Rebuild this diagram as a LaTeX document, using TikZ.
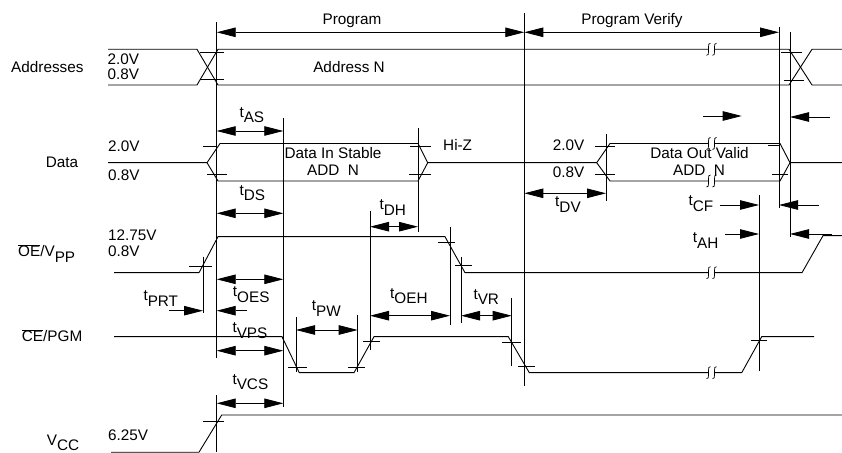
\documentclass[tikz,border=0pt]{standalone}
\usepackage{fontspec}
\setmainfont{Liberation Sans}
\usetikzlibrary{arrows.meta}
\newcommand{\tlab}[1]{t\raisebox{-5.5bp}{#1}}
\newcommand{\lowsub}[1]{\raisebox{-5.5bp}{#1}}
\tikzset{
  brk/.pic={
    \fill[white] (-3,-1.6) rectangle (3,1.6);
    \draw[line width=0.7bp] (-1,-6) .. controls (-3,-7) and (-3,-4) .. (-3,-2) -- (-3,2) .. controls (-3,4) and (-3,7) .. (-5,6);
    \draw[line width=0.7bp] (5,-6) .. controls (3,-7) and (3,-4) .. (3,-2) -- (3,2) .. controls (3,4) and (3,7) .. (1,6);
  }
}
\begin{document}
\begin{tikzpicture}[x=1bp,y=-1bp,
    every node/.style={font=\fontsize{15.3bp}{18bp}\selectfont, inner sep=0pt},
    sig/.style={line width=0.9bp},
    guide/.style={line width=0.8bp},
    dimarrow/.style={line width=0.8bp, {Triangle[length=19bp,width=9.5bp]}-{Triangle[length=19bp,width=9.5bp]}},
    onearrow/.style={line width=0.8bp, -{Triangle[length=19bp,width=9.5bp]}}]
  \useasboundingbox (0,0) rectangle (842,453);

  % signal names and levels
  \node[anchor=west] (addr) at (11,67) {Addresses};
  \node[anchor=base west] (addrhi) at (107.5,64.5) {2.0V};
  \node[anchor=base west] (addrlo) at (107.5,79.5) {0.8V};
  \node[anchor=west] (data) at (45.7,162.7) {Data};
  \node[anchor=base west] (datahi) at (108,152) {2.0V};
  \node[anchor=base west] (datalo) at (108,181) {0.8V};
  \node[anchor=base west] (oe) at (18,257) {\(\overline{\mbox{OE}}\)/V\lowsub{PP}};
  \node[anchor=base west] (oehi) at (108,240.5) {12.75V};
  \node[anchor=base west] (oelo) at (108,256.7) {0.8V};
  \node[anchor=base west] (ce) at (21.7,342) {\(\overline{\mbox{CE}}\)/PGM};
  \node[anchor=base west] (vcc) at (46.7,445) {V\lowsub{CC}};
  \node[anchor=base west] (vcclvl) at (108,440.7) {6.25V};

  % texts inside the picture
  \node[anchor=base] (prog) at (352,25) {Program};
  \node[anchor=base] (verify) at (632,25) {Program Verify};
  \node[anchor=base] (addrn) at (349,72.3) {Address N};
  \node[anchor=base] (din) at (333,159) {Data In Stable};
  \node[anchor=base] (dinadd) at (333,175.7) {ADD\ \ N};
  \node[anchor=base west] (hiz) at (443,151) {Hi-Z};
  \node[anchor=base west] (dvhi) at (552.7,150.7) {2.0V};
  \node[anchor=base west] (dvlo) at (552.7,177.7) {0.8V};
  \node[anchor=base] (dout) at (699.5,159) {Data Out Valid};
  \node[anchor=base] (doutadd) at (699,175.7) {ADD\ \ N};

  % timing names
  \node[anchor=base west] (tas) at (239.3,117.3) {\tlab{AS}};
  \node[anchor=base west] (tds) at (239.3,195.5) {\tlab{DS}};
  \node[anchor=base west] (toes) at (232.7,297) {\tlab{OES}};
  \node[anchor=base west] (tprt) at (143.3,301) {\tlab{PRT}};
  \node[anchor=base west] (tvps) at (232.3,333) {\tlab{VPS}};
  \node[anchor=base west] (tvcs) at (232.3,384.5) {\tlab{VCS}};
  \node[anchor=base west] (tpw) at (311.7,311) {\tlab{PW}};
  \node[anchor=base west] (toeh) at (390,298.5) {\tlab{OEH}};
  \node[anchor=base west] (tvr) at (473.3,299.5) {\tlab{VR}};
  \node[anchor=base west] (tdh) at (379.3,210) {\tlab{DH}};
  \node[anchor=base west] (tdv) at (555,207) {\tlab{DV}};
  \node[anchor=base west] (tcf) at (688.3,206) {\tlab{CF}};
  \node[anchor=base west] (tah) at (692.7,243) {\tlab{AH}};

  % Addresses
  \draw[sig] (108,49.3) -- (197,49.3) -- (218,85) -- (789,85) -- (812,49.3) -- (842,49.3);
  \draw[sig] (108,85) -- (197,85) -- (218,49.3) -- (789,49.3) -- (812,85) -- (842,85);
  \draw[guide] (200,52) -- (224,52) (200,79) -- (224,79)
    (781,52) -- (802,52) (784,80) -- (804,80);

  % Data
  \draw[sig] (108,162.7) -- (207,162.7) -- (220,143.5) -- (418,143.5) -- (427.7,162.7)
    -- (596.7,162.7) -- (610,143.5) -- (780,143.5) -- (790,162.7) -- (842,162.7);
  \draw[sig] (207,162.7) -- (218,181) -- (418,181) -- (427.7,162.7);
  \draw[sig] (596.7,162.7) -- (610,181) -- (780,181) -- (790,162.7);
  \draw[guide] (203,146) -- (216.7,146) (207,174.3) -- (227,174.3)
    (410,146) -- (430.7,146) (409.3,174.3) -- (430.7,174.3)
    (595,146) -- (615,146) (595,174.3) -- (615,174.3)
    (768,145.5) -- (780,145.5) (772,174.3) -- (788,174.3);

  % OE/VPP
  \draw[sig] (114,272.7) -- (199,272.7) -- (218,236.7) -- (445,236.7) -- (465,272.7)
    -- (802,272.7) -- (823,235.7) -- (842,235.7);
  \draw[guide] (189,266.7) -- (212,266.7) (438,242.7) -- (455,242.7) (455,265) -- (472,265);

  % CE/PGM
  \draw[sig] (114,336.7) -- (282,336.7) -- (299.3,372.7) -- (354,372.7) -- (374,336.7)
    -- (508.3,336.7) -- (529.3,372.7) -- (741.7,372.7) -- (761.7,336.7) -- (814,336.7);
  \draw[guide] (288,367.7) -- (306.7,367.7) (348,367.7) -- (365,367.7) (363,341) -- (380,341)
    (501.7,342.3) -- (520.7,342.3) (518,366.7) -- (535,366.7) (750.7,340) -- (767.3,340);

  % VCC
  \draw[sig] (111,452.2) -- (199,452.2) -- (221.7,415) -- (842,415);
  \draw[guide] (203,421.7) -- (224,421.7);

  % breaks
  \foreach \y in {49.3,143.5,181,272.7,372.7}
    \pic at (711.5,\y) {brk};

  % vertical guides
  \draw[guide] (216.7,22) -- (216.7,358) (216.7,395) -- (216.7,452);
  \draw[guide] (283.3,118) -- (283.3,407);
  \draw[guide] (418,128) -- (418,232);
  \draw[guide] (370,211) -- (370,350);
  \draw[guide] (524.3,13) -- (524.3,386);
  \draw[guide] (779,27) -- (779,208);
  \draw[guide] (790,32) -- (790,237);
  \draw[guide] (759,195) -- (759,371);
  \draw[guide] (203,256.7) -- (203,313);
  \draw[guide] (296,316.7) -- (296,371.7);
  \draw[guide] (357.7,315) -- (357.7,372);
  \draw[guide] (450,227) -- (450,325);
  \draw[guide] (461,257) -- (461,323);
  \draw[guide] (511.7,298) -- (511.7,366);
  \draw[guide] (606,134) -- (606,200.7);

  % timing arrows
  \draw[dimarrow] (216.7,32.3) -- (524.3,32.3);
  \draw[dimarrow] (524.3,32.3) -- (779,32.3);
  \draw[dimarrow] (216.7,131) -- (283.3,131);
  \draw[dimarrow] (216.7,213.3) -- (283.3,213.3);
  \draw[dimarrow] (216.7,279.3) -- (283.3,279.3);
  \draw[dimarrow] (216.7,350.7) -- (283.3,350.7);
  \draw[dimarrow] (216.7,403.3) -- (283.3,403.3);
  \draw[dimarrow] (296,330) -- (357.7,330);
  \draw[dimarrow] (370,315.7) -- (450,315.7);
  \draw[dimarrow] (461,315.7) -- (511.7,315.7);
  \draw[dimarrow] (370,226.7) -- (418,226.7);
  \draw[dimarrow] (524.3,193.3) -- (606,193.3);
  \draw[onearrow] (169,310.7) -- (203,310.7);
  \draw[onearrow] (247,310.7) -- (216.7,310.7);
  \draw[onearrow] (720,205) -- (759,205);
  \draw[onearrow] (819,205) -- (779,205);
  \draw[onearrow] (725,234) -- (759,234);
  \draw[onearrow] (831.7,234) -- (790,234);
  \draw[onearrow] (703,116) -- (741.7,116);
  \draw[onearrow] (830,117) -- (790,117);
\end{tikzpicture}
\end{document}
